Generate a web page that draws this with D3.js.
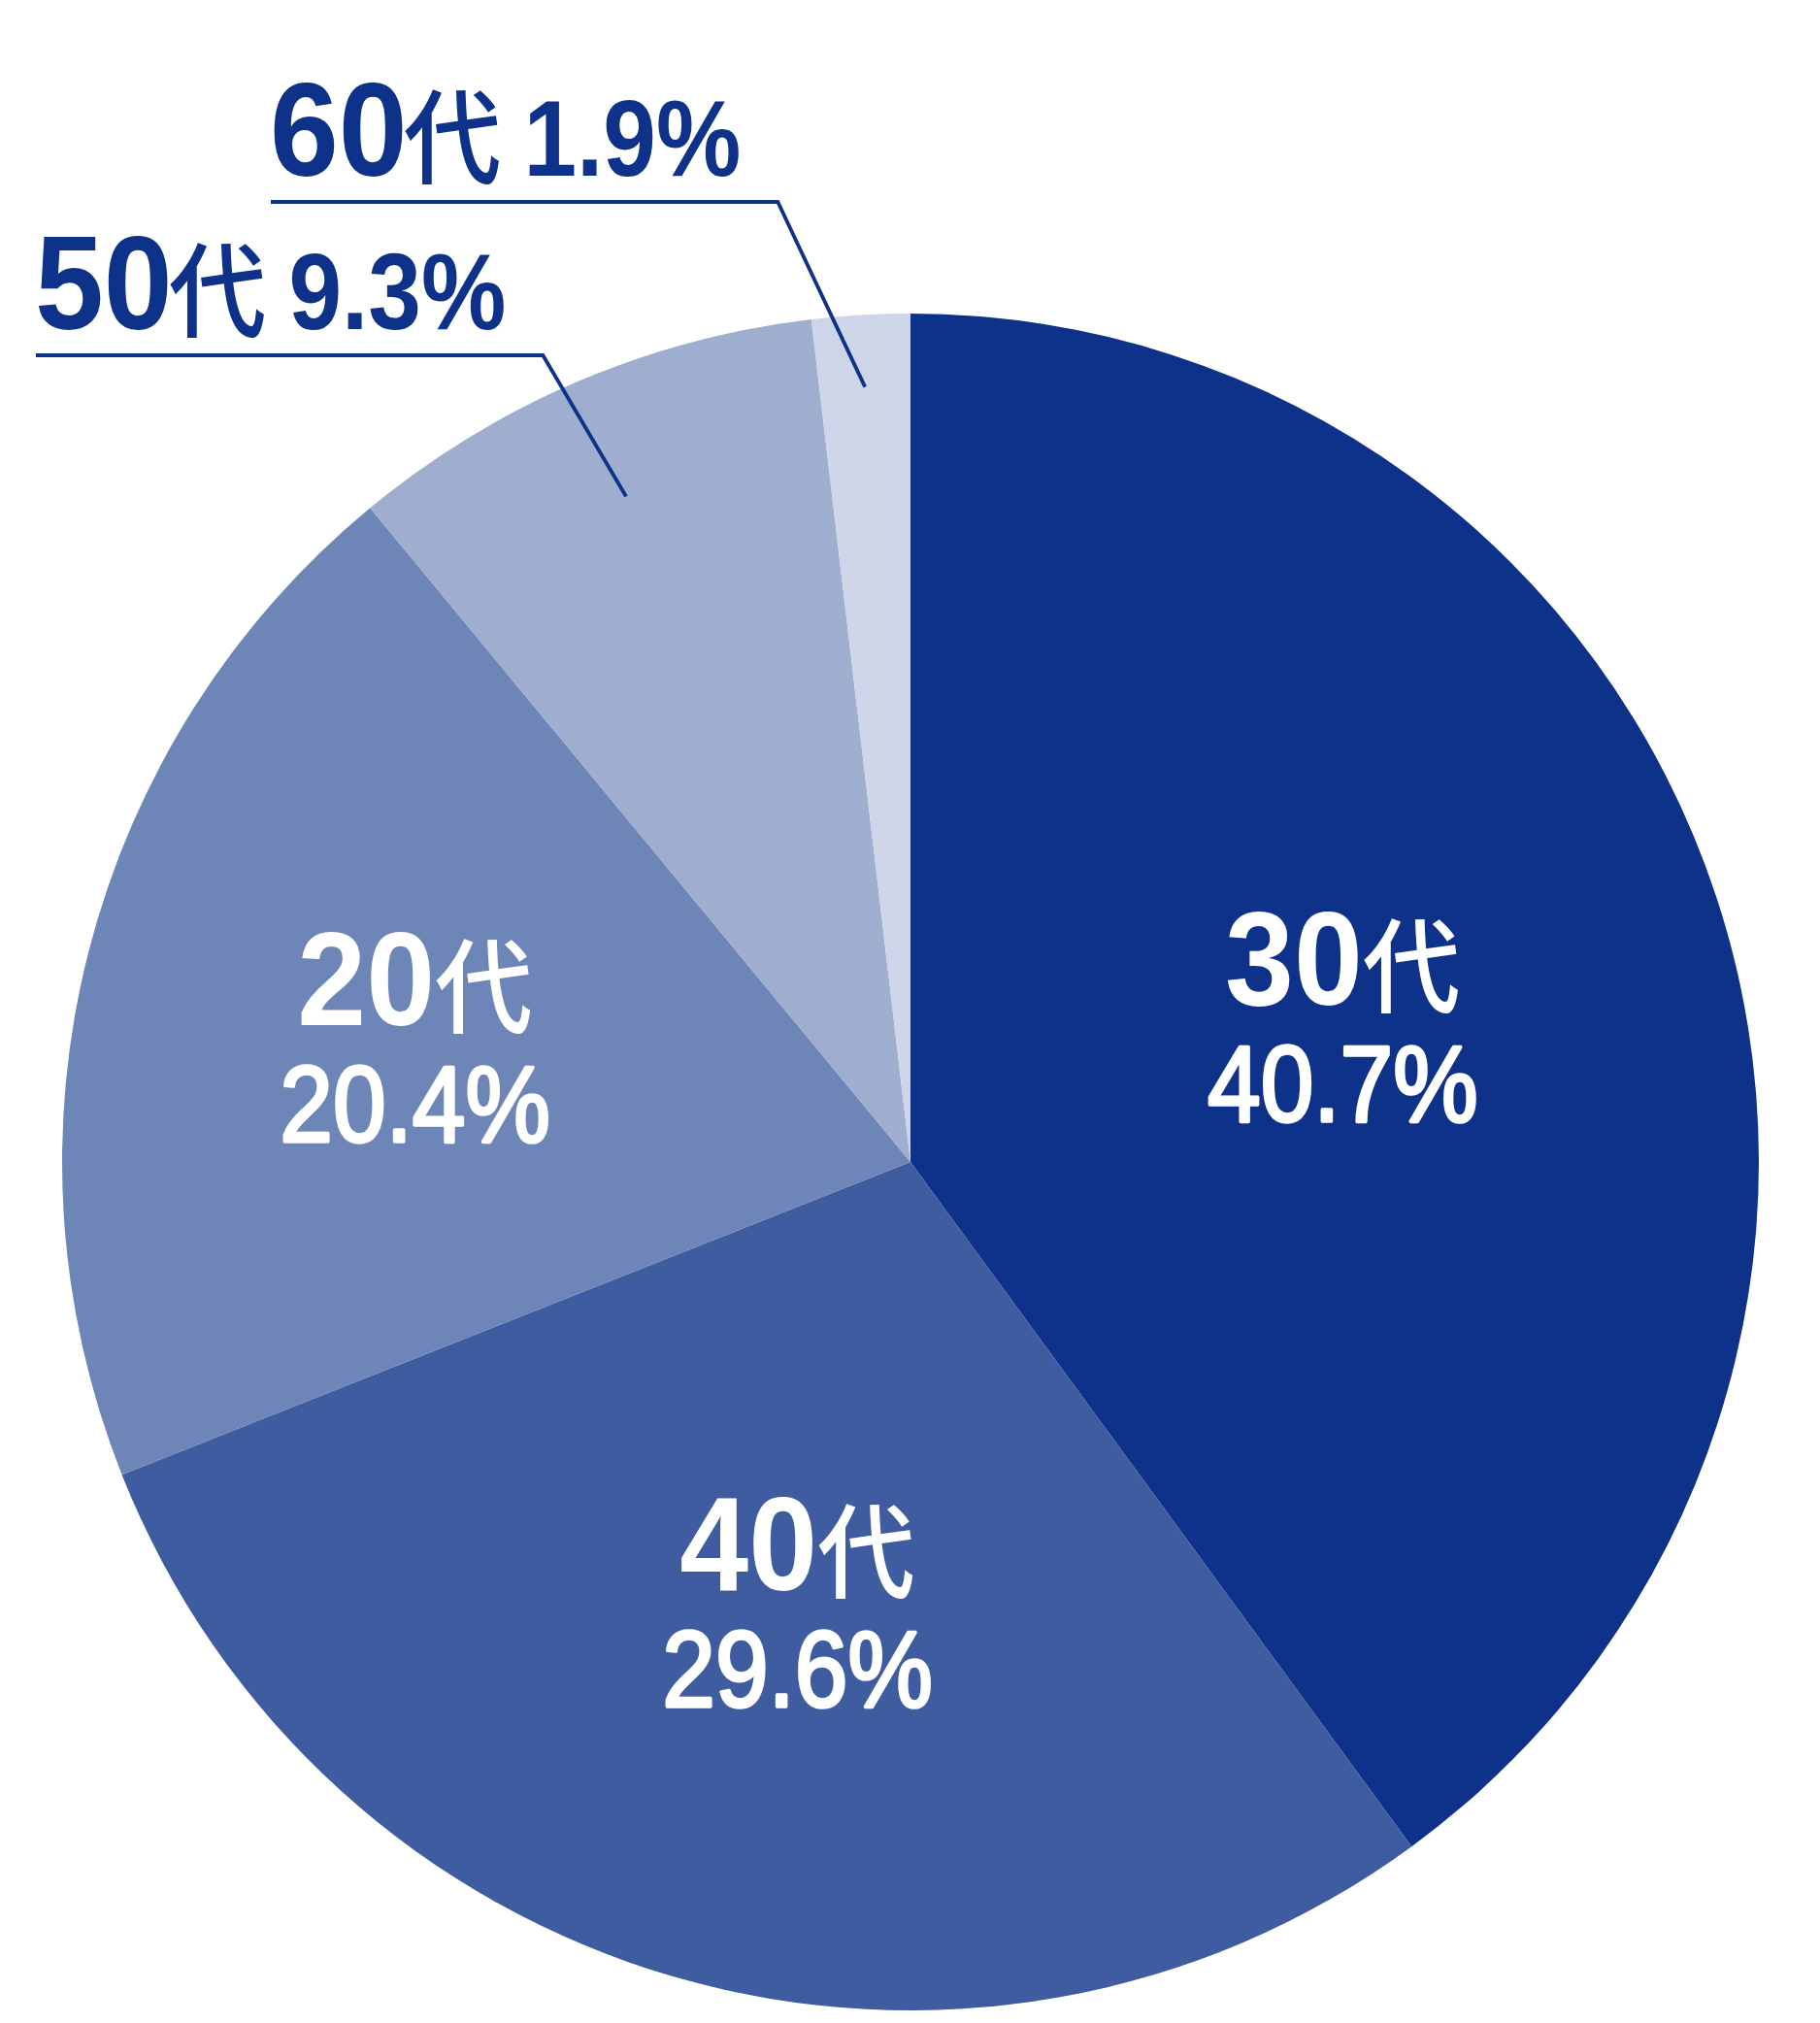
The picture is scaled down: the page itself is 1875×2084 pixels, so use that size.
<!DOCTYPE html>
<html lang="ja">
<head>
<meta charset="utf-8">
<script src="https://cdn.jsdelivr.net/npm/d3@7"></script>
<style>
  html, body { margin: 0; padding: 0; background: #fff; }
  svg { display: block; }
</style>
</head>
<body>
<svg id="chart"></svg>
<script>
// data, in drawing order (clockwise from 12 o'clock)
const ageGroups = ['30', '40', '20', '50', '60'];
const ageSuffix = '代';
const shares = [40.7, 29.6, 20.4, 9.3, 1.9];
const shareLabels = ['40.7%', '29.6%', '20.4%', '9.3%', '1.9%'];
const sliceColors = ['#0e318a', '#3e5c9f', '#6e86b7', '#9fadcf', '#ced5e8'];

const width = 1875;
const height = 2084;
const cx = 938;
const cy = 1197;
const radius = 874;
const navy = sliceColors[0];

// label placement: inside labels sit on the slice centroid (radius factor,
// small angle nudge in degrees, vertical nudge); outside ones get an underline + leader
const insideLabels = {
  '30': { r: 0.536, nudge: 0, dy: -6 },
  '40': { r: 0.533, nudge: -1.6, dy: 0 },
  '20': { r: 0.603, nudge: 0, dy: 0 }
};
const outsideLabels = {
  '60': { x: 278, baseline: 181, leaderR: 0.915 },
  '50': { x: 36, baseline: 339, leaderR: 0.853 }
};

const labelSize = 137;
const labelScaleX = 0.93;
const suffixSize = 106;
const suffixScaleX = 0.95;
const pctSize = 111;
const pctScaleX = 0.885;

const numFont = '"Liberation Sans", Arial, sans-serif';
const cjkFont = '"Noto Sans CJK JP", "Noto Sans CJK SC", sans-serif';

const rows = ageGroups.map((g, i) => ({
  group: g,
  share: shares[i],
  shareLabel: shareLabels[i],
  color: sliceColors[i]
}));

const svg = d3.select('#chart')
  .attr('width', width)
  .attr('height', height)
  .attr('viewBox', `0 0 ${width} ${height}`);

const pie = d3.pie().sort(null).value(d => d.share);
const arc = d3.arc().innerRadius(0).outerRadius(radius);
const arcs = pie(rows);

const plot = svg.append('g').attr('transform', `translate(${cx},${cy})`);

plot.selectAll('path.slice')
  .data(arcs)
  .enter()
  .append('path')
  .attr('class', 'slice')
  .attr('d', arc)
  .attr('fill', d => d.data.color);

// condensed grotesque digits: squeezed Liberation Sans. returns advance width
function numText (g, x, y, str, size, scaleX, fill, weight, thicken) {
  const t = g.append('text')
    .attr('transform', `translate(${x},${y}) scale(${scaleX},1)`)
    .attr('font-family', numFont)
    .attr('font-size', size)
    .attr('font-weight', weight)
    .attr('fill', fill)
    .text(str);
  if (thicken) {
    t.attr('stroke', fill)
      .attr('stroke-width', thicken)
      .attr('stroke-linejoin', 'round');
  }
  return t.node().getComputedTextLength() * scaleX;
}

function suffixText (g, x, y, fill) {
  const t = g.append('text')
    .attr('transform', `translate(${x},${y}) scale(${suffixScaleX},1)`)
    .attr('font-family', cjkFont)
    .attr('font-size', suffixSize)
    .attr('font-weight', 500)
    .attr('fill', fill)
    .text(ageSuffix);
  return t.node().getComputedTextLength() * suffixScaleX;
}

// centre a sub group horizontally on x = 0
function centreX (g) {
  const box = g.node().getBBox();
  g.attr('transform', `translate(${-(box.x + box.width / 2)},0)`);
}

const rad = deg => deg * Math.PI / 180;

// inside labels
arcs.filter(d => insideLabels[d.data.group]).forEach(d => {
  const opt = insideLabels[d.data.group];
  const r = radius * opt.r;
  const pos = d3.arc().innerRadius(r).outerRadius(r).centroid({
    startAngle: d.startAngle + rad(opt.nudge),
    endAngle: d.endAngle + rad(opt.nudge)
  });
  const g = plot.append('g')
    .attr('class', 'inside-label')
    .attr('transform', `translate(${pos[0]},${pos[1] + opt.dy})`);

  const line1 = g.append('g');
  const w = numText(line1, 0, -10, d.data.group, labelSize, labelScaleX, '#fff', 700);
  suffixText(line1, w, -10, '#fff');
  centreX(line1);

  const line2 = g.append('g');
  numText(line2, 0, 110, d.data.shareLabel, pctSize, pctScaleX, '#fff', 400, 3.6);
  centreX(line2);
});

// outside labels with underline leaders
arcs.filter(d => outsideLabels[d.data.group]).forEach(d => {
  const opt = outsideLabels[d.data.group];
  const g = svg.append('g').attr('class', 'outside-label');
  let x = opt.x;
  x += numText(g, x, opt.baseline, d.data.group, labelSize, labelScaleX, navy, 700) - 4;
  x += suffixText(g, x, opt.baseline, navy);
  x += 23;
  x += numText(g, x, opt.baseline, d.data.shareLabel, pctSize, pctScaleX, navy, 700);

  const r = radius * opt.leaderR;
  const tip = d3.arc().innerRadius(r).outerRadius(r).centroid(d);
  const lineY = opt.baseline + 27;
  svg.append('path')
    .attr('class', 'leader')
    .attr('d', d3.line()([[opt.x + 1, lineY], [x + 38, lineY], [cx + tip[0], cy + tip[1]]]))
    .attr('fill', 'none')
    .attr('stroke', navy)
    .attr('stroke-width', 3.8);
});
</script>
</body>
</html>
